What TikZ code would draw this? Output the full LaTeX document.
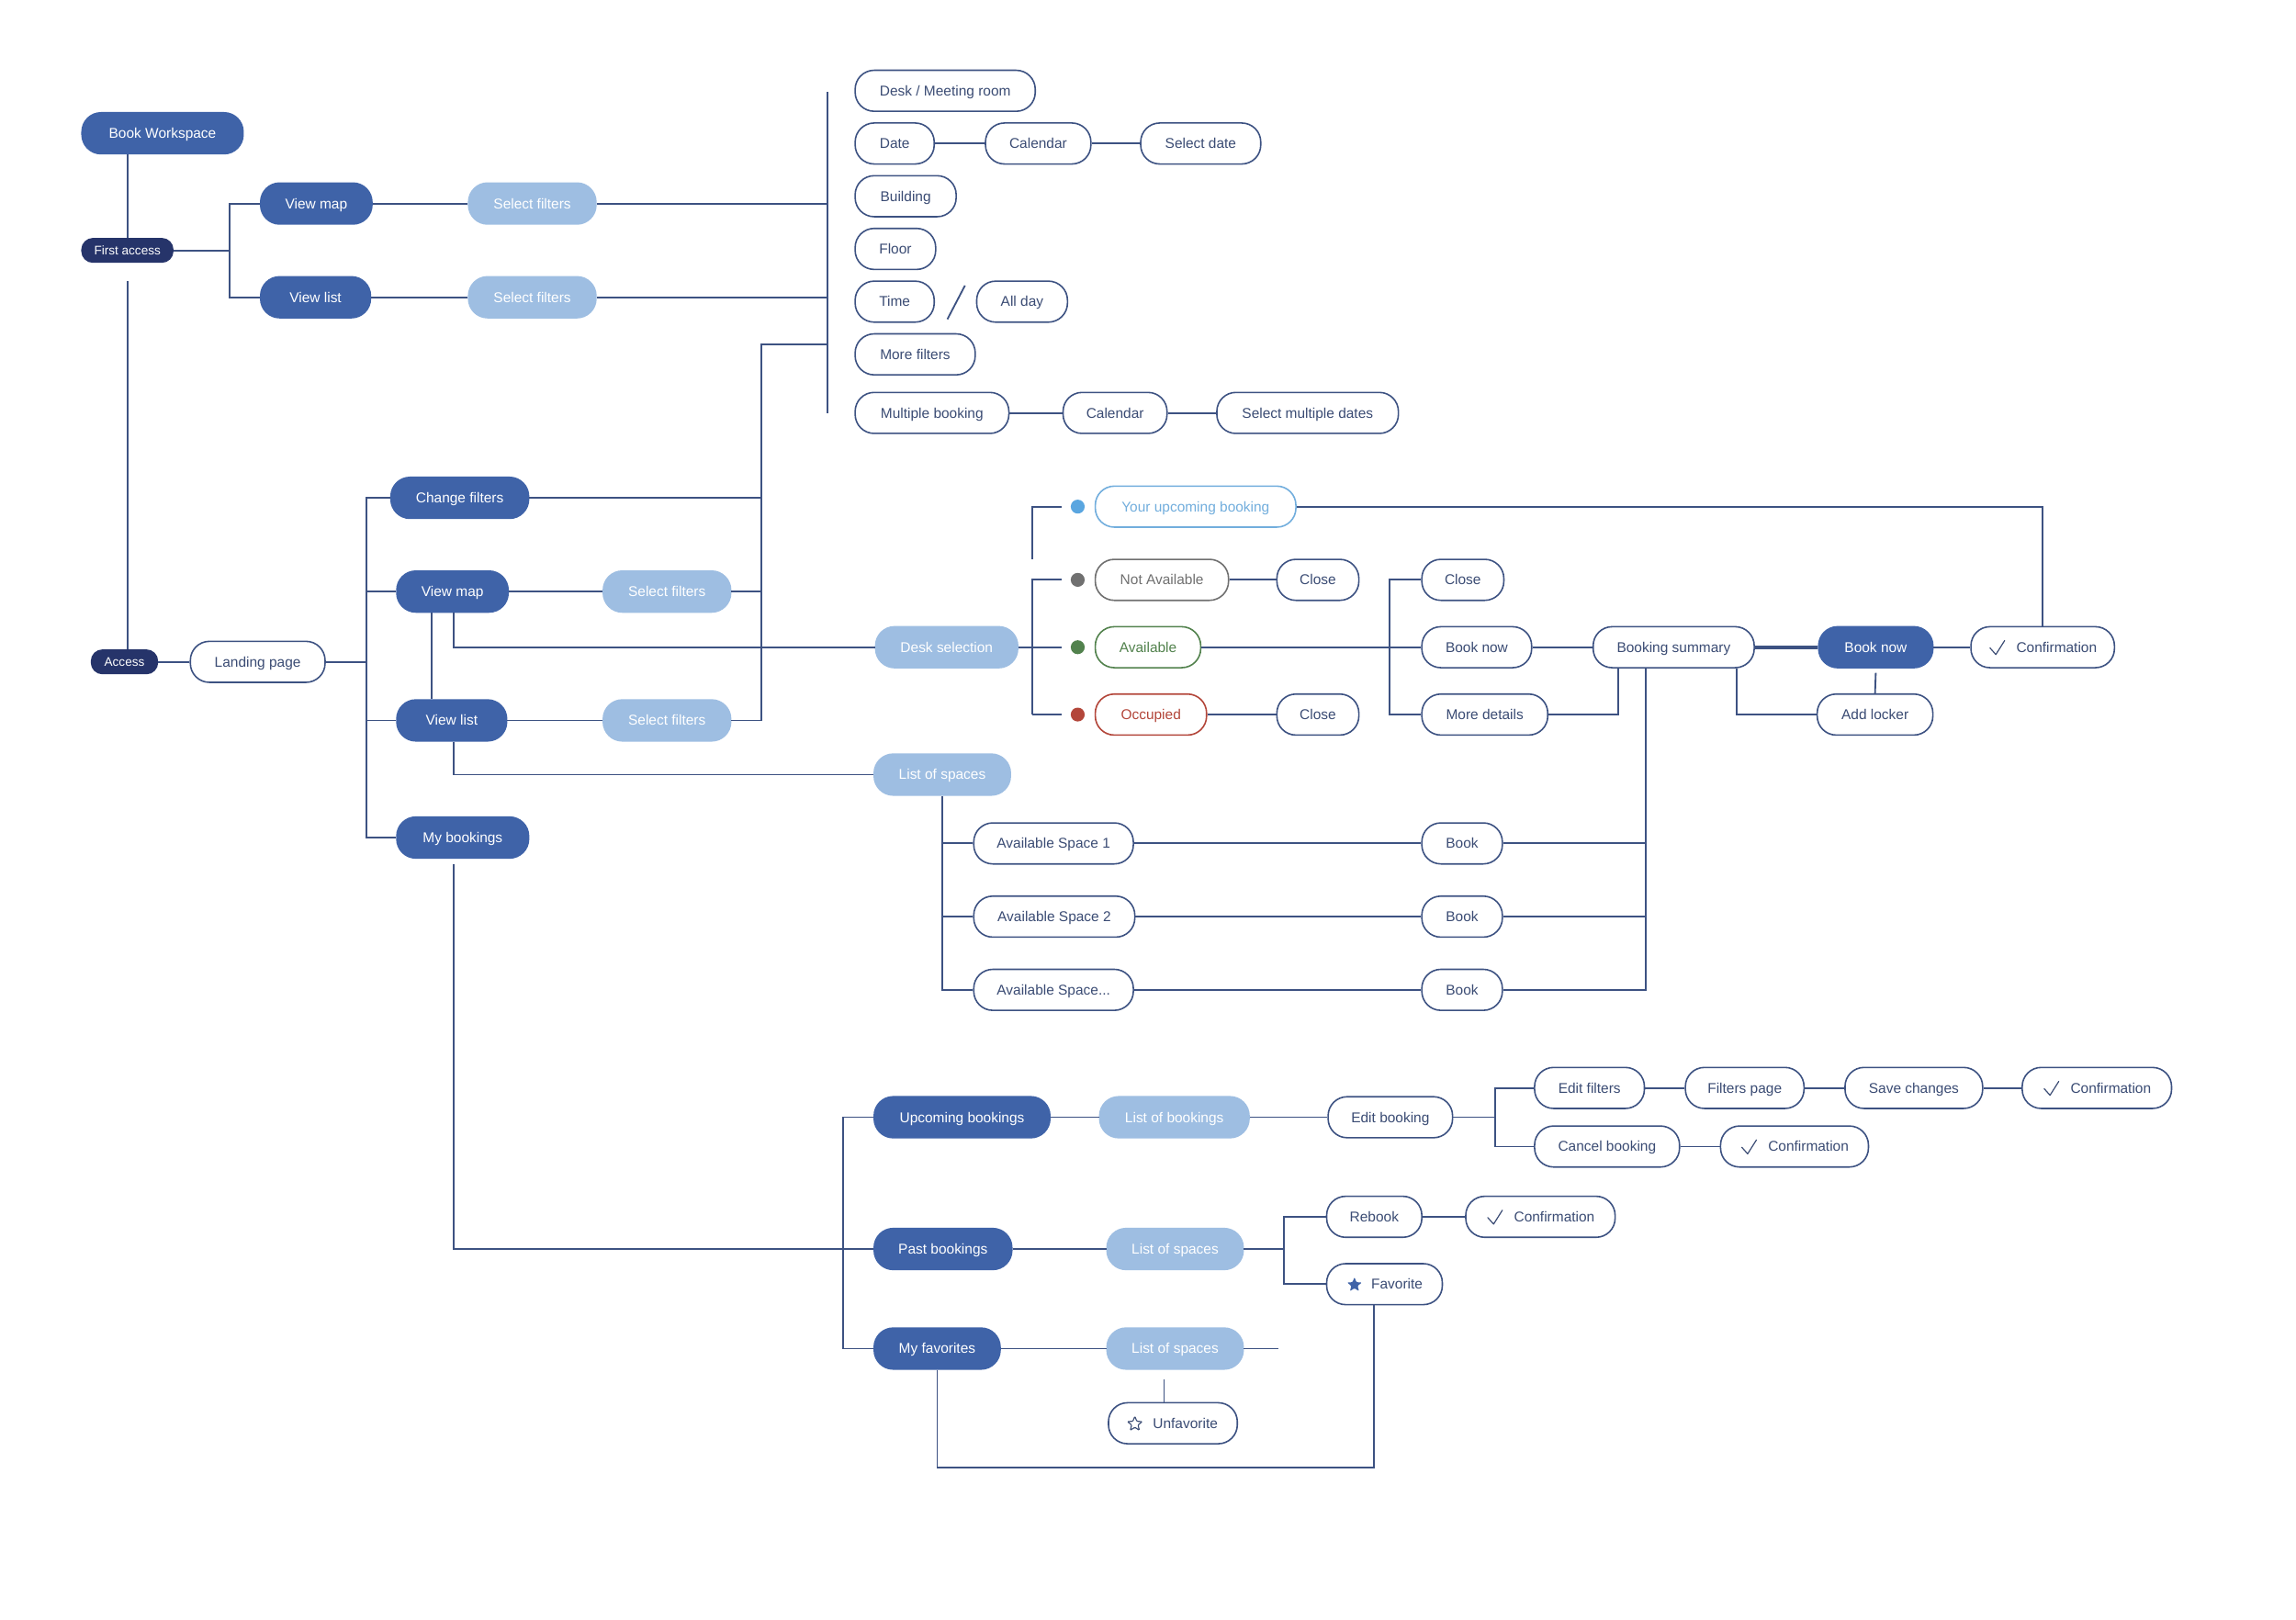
\documentclass[tikz,border=0pt]{standalone}
\usepackage{fontspec}
\setmainfont{Liberation Sans}
\usetikzlibrary{calc,shapes.geometric}
\definecolor{cdark}{HTML}{3F63A8}
\definecolor{cnavy}{HTML}{26346A}
\definecolor{clight}{HTML}{9EBEE2}
\definecolor{cline}{HTML}{3D5282}
\definecolor{ctext}{HTML}{3B4C74}
\definecolor{cyub}{HTML}{72AEDD}
\definecolor{cdotb}{HTML}{5AA6E0}
\definecolor{cgray}{HTML}{707070}
\definecolor{cgreen}{HTML}{52824D}
\definecolor{cred}{HTML}{B3463A}
\tikzset{
  base/.style={rounded corners=13pt, minimum height=28pt, inner sep=0pt, line width=1pt,
    text height=6.9pt, text depth=0pt, font=\fontsize{9.7}{11}\selectfont},
  mw/.style={minimum width=#1pt},
  dark/.style={base, fill=cdark, draw=cdark, text=white},
  light/.style={base, fill=clight, draw=clight, text=white},
  wnode/.style={base, fill=white, draw=cline, text=ctext},
  navy/.style={base, fill=cnavy, draw=cnavy, text=white, minimum height=16pt, rounded corners=7.5pt,
    text height=6.1pt, font=\fontsize{8.5}{10}\selectfont},
  conn/.style={draw=cline, line width=1.15pt},
  sdot/.style={circle, minimum size=9.5pt, inner sep=0pt},
  chkmark/.style={draw=ctext, line width=0.75pt, line cap=round, line join=round},
  starf/.style={star, star points=5, star point ratio=2.3, minimum size=10.5pt, inner sep=0pt, rounded corners=0.6pt}
}
\newcommand{\ck}{\hspace{19pt}}
\newcommand{\drawck}[1]{\draw[chkmark] ($(#1.center)+(-36,0.5)$) -- ($(#1.center)+(-32,5)$) -- ($(#1.center)+(-26,-4.5)$);}
\begin{document}
\begin{tikzpicture}[x=1pt,y=-1pt]
\fill[white] (0,0) rectangle (1568,1106);
\useasboundingbox (0,0) rectangle (1568,1106);

% ---------- top section ----------
\node[dark, mw=110] (bw) at (111,91) {Book Workspace};
\node[navy, mw=62] (fa) at (87,171) {First access};
\node[dark, mw=76] (vm1) at (216,139) {View map};
\node[light, mw=87] (sf1) at (363.5,139) {Select filters};
\node[dark, mw=75] (vl1) at (215.5,203) {View list};
\node[light, mw=87] (sf2) at (363.5,203) {Select filters};

\node[wnode, mw=123] (desk) at (645.5,62) {Desk / Meeting room};
\node[wnode, mw=54] (date) at (611,98) {Date};
\node[wnode, mw=72] (cal1) at (709,98) {Calendar};
\node[wnode, mw=82] (seld) at (820,98) {Select date};
\node[wnode, mw=69] (bld) at (618.5,134) {Building};
\node[wnode, mw=55] (flr) at (611.5,170) {Floor};
\node[wnode, mw=54] (time) at (611,206) {Time};
\node[wnode, mw=62] (allday) at (698,206) {All day};
\node[wnode, mw=82] (moref) at (625,242) {More filters};
\node[wnode, mw=105] (multi) at (636.5,282) {Multiple booking};
\node[wnode, mw=71] (cal2) at (761.5,282) {Calendar};
\node[wnode, mw=124] (selm) at (893,282) {Select multiple dates};

\coordinate (b157) at (157,171);
\coordinate (bt) at (565,63);
\coordinate (bb) at (565,282);
\coordinate (c520) at (520,235);
\coordinate (fagap) at (87,192);
\coordinate (sl1) at (647,218);
\coordinate (sl2) at (659,195);

\draw[conn] (fa.north) -- (fa.north |- bw.south);
\draw[conn] (fa.east) -- (b157);
\draw[conn] (vm1.west) -| (b157) |- (vl1.west);
\draw[conn] (vm1.east) -- (sf1.west);
\draw[conn] (vl1.east) -- (sf2.west);
\draw[conn] (bt) -- (bb);
\draw[conn] (sf1.east) -- (sf1.east -| bt);
\draw[conn] (sf2.east) -- (sf2.east -| bt);
\draw[conn] (date.east) -- (cal1.west);
\draw[conn] (cal1.east) -- (seld.west);
\draw[conn] (multi.east) -- (cal2.west);
\draw[conn] (cal2.east) -- (selm.west);
\draw[conn] (sl1) -- (sl2);

% ---------- middle section ----------
\node[navy, mw=45] (acc) at (85,452) {Access};
\node[wnode, mw=92] (lp) at (176,452) {Landing page};
\node[dark, mw=94] (cf) at (314,340) {Change filters};
\node[dark, mw=76] (vm2) at (309,404) {View map};
\node[light, mw=87] (sf3) at (455.5,404) {Select filters};
\node[dark, mw=75] (vl2) at (308.5,492) {View list};
\node[light, mw=87] (sf4) at (455.5,492) {Select filters};
\node[dark, mw=90] (myb) at (316,572) {My bookings};
\node[light, mw=97] (ds) at (646.5,442) {Desk selection};
\node[light, mw=93] (los1) at (643.5,529) {List of spaces};

\coordinate (b250t) at (250,340);
\coordinate (b250b) at (250,572);
\coordinate (mybgap) at (310,590);

\draw[conn] (fagap) -- (fagap |- acc.north);
\draw[conn] (acc.east) -- (lp.west);
\draw[conn] (lp.east) -- (lp.east -| b250t);
\draw[conn] (cf.west) -- (b250t) -- (b250b) -- (myb.west);
\draw[conn] (vm2.west) -- (vm2.west -| b250t);
\draw[conn] (vl2.west) -- (vl2.west -| b250t);
\draw[conn] (bt |- c520) -- (c520) |- (sf4.east);
\draw[conn] (cf.east) -- (cf.east -| c520);
\draw[conn] (sf3.east) -- (sf3.east -| c520);
\draw[conn] (vm2.east) -- (sf3.west);
\draw[conn] (vl2.east) -- (sf4.west);
\draw[conn] ([xshift=-14pt]vm2.south) -- ([xshift=-14pt]vm2.south |- vl2.north);
\draw[conn] ([xshift=1pt]vm2.south) |- (ds.west);
\draw[conn] ([xshift=1.5pt]vl2.south) |- (los1.west);

% status
\node[sdot, fill=cdotb] (d1) at (736,346) {};
\node[sdot, fill=cgray] (d2) at (736,396) {};
\node[sdot, fill=cgreen] (d3) at (736,442) {};
\node[sdot, fill=cred] (d4) at (736,488) {};
\node[wnode, draw=cyub, text=cyub, mw=137] (yub) at (816.5,346) {Your upcoming booking};
\node[wnode, draw=cgray, text=cgray, mw=91] (nav) at (793.5,396) {Not Available};
\node[wnode, mw=56] (cl1) at (900,396) {Close};
\node[wnode, draw=cgreen, text=cgreen, mw=72] (av) at (784,442) {Available};
\node[wnode, draw=cred, text=cred, mw=76] (occ) at (786,488) {Occupied};
\node[wnode, mw=56] (cl2) at (900,488) {Close};

\node[wnode, mw=56] (cl3) at (999,396) {Close};
\node[wnode, mw=75] (bn1) at (1008.5,442) {Book now};
\node[wnode, mw=86] (md) at (1014,488) {More details};
\node[wnode, mw=110] (bsum) at (1143,442) {Booking summary};
\node[dark, mw=78] (bn2) at (1281,442) {Book now};
\node[wnode, mw=98] (conf1) at (1395,442) {\ck Confirmation};
\node[wnode, mw=79] (al) at (1280.5,488) {Add locker};
\drawck{conf1}

\coordinate (e1) at (725,346);
\coordinate (e2) at (725,396);
\coordinate (e3) at (725,442);
\coordinate (e4) at (725,488);
\coordinate (sb1) at (705,382);
\coordinate (sb2) at (705,396);
\coordinate (sb3) at (705,488);
\coordinate (b949) at (949,396);

\draw[conn] (e1) -| (sb1);
\draw[conn] (e2) -| (sb3);
\draw[conn] (e3) -- (e3 -| sb2);
\draw[conn] (e4) -- (sb3);
\draw[conn] (ds.east) -- (ds.east -| sb2);
\draw[conn] (nav.east) -- (cl1.west);
\draw[conn] (occ.east) -- (cl2.west);
\draw[conn] (av.east) -- (bn1.west);
\draw[conn] (cl3.west) -- (b949) |- (md.west);
\draw[conn] (bn1.east) -- (bsum.west);
\draw[conn, line width=2.4pt] (bsum.east) -- (bn2.west);
\draw[conn] (bn2.east) -- (conf1.west);
\draw[conn] (yub.east) -| (conf1.north);
\draw[conn] (md.east) -| ([xshift=-38pt]bsum.south);
\draw[conn] ([xshift=43pt]bsum.south) |- (al.west);
\draw[conn] ([yshift=-3pt]bn2.south) -- (al.north);

% list of spaces
\node[wnode, mw=109] (as1) at (719.5,576) {Available Space 1};
\node[wnode, mw=110] (as2) at (720,626) {Available Space 2};
\node[wnode, mw=109] (as3) at (719.5,676) {Available Space...};
\node[wnode, mw=55] (bk1) at (998.5,576) {Book};
\node[wnode, mw=55] (bk2) at (998.5,626) {Book};
\node[wnode, mw=55] (bk3) at (998.5,676) {Book};
\coordinate (b1124) at (1124,676);

\draw[conn] (los1.south) |- (as3.west);
\draw[conn] (as1.west) -- (as1.west -| los1.south);
\draw[conn] (as2.west) -- (as2.west -| los1.south);
\draw[conn] (as1.east) -- (bk1.west);
\draw[conn] (as2.east) -- (bk2.west);
\draw[conn] (as3.east) -- (bk3.west);
\draw[conn] ([xshift=-19pt]bsum.south) -- (b1124) -- (bk3.east);
\draw[conn] (bk1.east) -- (bk1.east -| b1124);
\draw[conn] (bk2.east) -- (bk2.east -| b1124);

% ---------- bottom section ----------
\node[dark, mw=120] (ub) at (657,763) {Upcoming bookings};
\node[light, mw=102] (lob) at (802,763) {List of bookings};
\node[wnode, mw=85] (eb) at (949.5,763) {Edit booking};
\node[wnode, mw=75] (ef) at (1085.5,743) {Edit filters};
\node[wnode, mw=81] (fp) at (1191.5,743) {Filters page};
\node[wnode, mw=94] (sc) at (1307,743) {Save changes};
\node[wnode, mw=102] (conf2) at (1432,743) {\ck Confirmation};
\node[wnode, mw=99] (cb) at (1097.5,783) {Cancel booking};
\node[wnode, mw=101] (conf3) at (1225.5,783) {\ck Confirmation};
\node[dark, mw=94] (pb) at (644,853) {Past bookings};
\node[light, mw=93] (los2) at (802.5,853) {List of spaces};
\node[wnode, mw=65] (rb) at (938.5,831) {Rebook};
\node[wnode, mw=102] (conf4) at (1052,831) {\ck Confirmation};
\node[wnode, mw=79] (fav) at (945.5,877) {\hspace{17pt}Favorite};
\node[dark, mw=86] (mf) at (640,921) {My favorites};
\node[light, mw=93] (los3) at (802.5,921) {List of spaces};
\node[wnode, mw=88] (uf) at (801,972) {\hspace{17pt}Unfavorite};
\drawck{conf2}
\drawck{conf3}
\drawck{conf4}
\node[starf, fill=cdark] (st1) at ($(fav.center)+(-20.5,0.5)$) {};
\node[starf, draw=ctext, line width=0.7pt, fill=white] (st2) at ($(uf.center)+(-26,0.5)$) {};

\coordinate (b576t) at (576,763);
\coordinate (b576b) at (576,921);
\coordinate (b1021) at (1021,743);
\coordinate (b877) at (877,831);
\coordinate (dang) at (873,921);
\coordinate (ufgap) at (795,942);
\coordinate (lb) at (640,1002);

\draw[conn] (mybgap) |- (pb.west);
\draw[conn] (ub.west) -- (b576t) -- (b576b) -- (mf.west);
\draw[conn] (ub.east) -- (lob.west);
\draw[conn] (lob.east) -- (eb.west);
\draw[conn] (eb.east) -- (eb.east -| b1021);
\draw[conn] (ef.west) -- (b1021) |- (cb.west);
\draw[conn] (ef.east) -- (fp.west);
\draw[conn] (fp.east) -- (sc.west);
\draw[conn] (sc.east) -- (conf2.west);
\draw[conn] (cb.east) -- (conf3.west);
\draw[conn] (pb.east) -- (los2.west);
\draw[conn] (los2.east) -- (los2.east -| b877);
\draw[conn] (rb.west) -- (b877) |- (fav.west);
\draw[conn] (rb.east) -- (conf4.west);
\draw[conn] (mf.east) -- (los3.west);
\draw[conn] (los3.east) -- (dang);
\draw[conn] (ufgap) -- (ufgap |- uf.north);
\draw[conn] (mf.south) -- (lb) -| ([xshift=-7pt]fav.south);
\end{tikzpicture}
\end{document}
